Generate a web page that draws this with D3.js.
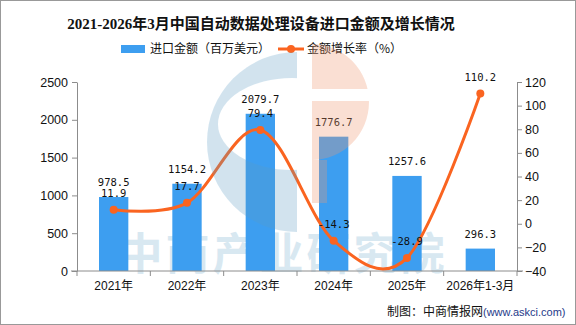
<!DOCTYPE html>
<html><head><meta charset="utf-8">
<script src="https://cdn.jsdelivr.net/npm/d3@7"></script>
<style>
html,body{margin:0;padding:0;background:#fff;}
svg{display:block;}
</style></head>
<body><svg id="c" width="576" height="325"></svg>
<script>
const categories = ["2021年","2022年","2023年","2024年","2025年","2026年1-3月"];
const importValues = [978.5, 1154.2, 2079.7, 1776.7, 1257.6, 296.3];
const growthRates = [11.9, 17.7, 79.4, -14.3, -28.9, 110.2];
const leftTicks = [0, 500, 1000, 1500, 2000, 2500];
const rightTicks = [-40, -20, 0, 20, 40, 60, 80, 100, 120];
const title = "2021-2026年3月中国自动数据处理设备进口金额及增长情况";
const legendBar = "进口金额（百万美元）";
const legendLine = "金额增长率（%）";

const svg = d3.select("#c");
const barColor = "#3d9ef0", lineColor = "#fa6420", axisColor = "#8c8c8c";
const numFont = "'DejaVu Sans Mono', monospace";
const cjk = "'Noto Sans CJK SC', sans-serif";

const x = d3.scaleBand().domain(categories).range([77, 517]).padding(0);
const yL = d3.scaleLinear().domain([0, 2500]).range([271, 82]);
const yR = d3.scaleLinear().domain([-40, 120]).range([271, 82]);

// border
svg.append("rect").attr("x",0.5).attr("y",0.5).attr("width",575).attr("height",324)
  .attr("fill","#fff").attr("stroke","#999");

// title
svg.append("text").attr("x",261).attr("y",29).attr("text-anchor","middle")
  .style("font-family","'Liberation Serif', 'Noto Sans CJK SC', serif").style("font-weight","700")
  .style("font-size","15px").attr("fill","#111").text(title);

// legend
svg.append("rect").attr("x",121).attr("y",45).attr("width",24).attr("height",8).attr("fill",barColor);
svg.append("text").attr("x",150).attr("y",53).style("font-family",cjk).style("font-size","12px")
  .attr("fill","#111").text(legendBar);
svg.append("line").attr("x1",278).attr("x2",304).attr("y1",49).attr("y2",49)
  .attr("stroke",lineColor).attr("stroke-width",3);
svg.append("circle").attr("cx",291).attr("cy",49).attr("r",4).attr("fill",lineColor);
svg.append("text").attr("x",307).attr("y",53).style("font-family",cjk).style("font-size","12px")
  .attr("fill","#111").text(legendLine);

// text watermark (behind)
svg.append("text").attr("x",283).attr("y",270).attr("text-anchor","middle")
  .style("font-family",cjk).style("font-weight","700").style("font-size","44px")
  .style("letter-spacing","3px").attr("fill","#d8e8f1").text("中商产业研究院");

// bars
const bw = x.bandwidth() * 0.4;
svg.append("g").selectAll("rect").data(importValues).join("rect")
  .attr("x",(d,i)=>x(categories[i]) + x.bandwidth()/2 - bw/2)
  .attr("y",d=>yL(d)).attr("width",bw).attr("height",d=>yL(0)-yL(d))
  .attr("fill",barColor);

// axes
const gL = svg.append("g").attr("transform","translate(77,0)")
  .call(d3.axisLeft(yL).tickValues(leftTicks).tickFormat(d3.format("d")).tickSize(5).tickSizeOuter(0).tickPadding(4));
const gR = svg.append("g").attr("transform","translate(517,0)")
  .call(d3.axisRight(yR).tickValues(rightTicks).tickFormat(d3.format("d")).tickSize(5).tickSizeOuter(0).tickPadding(3));
[gL,gR].forEach(g=>{
  g.select(".domain").attr("stroke",axisColor);
  g.selectAll(".tick line").attr("stroke",axisColor);
  g.selectAll(".tick text").style("font-family","'Liberation Sans', sans-serif")
    .style("font-size","12.5px").attr("fill","#111");
});
gR.selectAll(".tick text").text(d=> d<0 ? "\u2212"+Math.abs(d) : d);

const gX = svg.append("g").attr("transform","translate(0,271)");
gX.append("line").attr("x1",71).attr("x2",523).attr("stroke",axisColor);
const bounds = categories.map(c=>x(c)).concat([x.range()[1]]);
gX.selectAll(".bt").data(bounds).join("line").attr("class","bt")
  .attr("x1",d=>d).attr("x2",d=>d).attr("y1",0).attr("y2",5).attr("stroke",axisColor);
gX.selectAll(".xl").data(categories).join("text").attr("class","xl")
  .attr("x",d=>x(d)+x.bandwidth()/2).attr("y",19).attr("text-anchor","middle")
  .style("font-family","'Liberation Sans', 'Noto Sans CJK SC', sans-serif").style("font-size","12px")
  .attr("fill","#111").text(d=>d);

// line
const cx = i => x(categories[i]) + x.bandwidth()/2;
const line = d3.line().x((d,i)=>cx(i)).y(d=>yR(d)).curve(d3.curveCardinal.tension(0));
svg.append("path").datum(growthRates).attr("d",line).attr("fill","none")
  .attr("stroke",lineColor).attr("stroke-width",3);
svg.append("g").selectAll("circle").data(growthRates).join("circle")
  .attr("cx",(d,i)=>cx(i)).attr("cy",d=>yR(d)).attr("r",4).attr("fill",lineColor);

// value labels
const fmt = v => (v<0?"-":"") + Math.abs(v).toFixed(1);
svg.append("g").selectAll("text").data(importValues).join("text")
  .attr("x",(d,i)=>cx(i)).attr("y",d=>yL(d)-11).attr("text-anchor","middle")
  .style("font-family",numFont).style("font-size","10.5px").attr("fill","#111").text(fmt);
svg.append("g").selectAll("text").data(growthRates).join("text")
  .attr("x",(d,i)=>cx(i)).attr("y",d=>yR(d)-13).attr("text-anchor","middle")
  .style("font-family",numFont).style("font-size","10.5px").attr("fill","#111").text(fmt);

// logo watermark (on top, translucent)
const defs = svg.append("defs");
const mB = defs.append("mask").attr("id","mb");
mB.append("rect").attr("width",576).attr("height",325).attr("fill","#fff");
mB.append("ellipse").attr("cx",292).attr("cy",124).attr("rx",74).attr("ry",46).attr("fill","#000");
const mO = defs.append("mask").attr("id","mo");
mO.append("rect").attr("width",576).attr("height",325).attr("fill","#fff");
mO.append("rect").attr("x",300).attr("y",89).attr("width",80).attr("height",12).attr("fill","#000");
svg.append("path").attr("mask","url(#mb)")
  .attr("d","M297,52 A90,90 0 0 0 297,232 Z").attr("fill","#5b9bc4").attr("opacity",0.27);
svg.append("path").attr("mask","url(#mo)")
  .attr("d","M312,44 A57,58 0 0 1 312,160 L327,160 L327,203 L312,203 Z")
  .attr("fill","#f09870").attr("opacity",0.3);

// footer
const ft = svg.append("text").attr("x",387).attr("y",316).style("font-size","12px");
ft.append("tspan").style("font-family",cjk).attr("fill","#111").text("制图：中商情报网");
ft.append("tspan").style("font-family","'Liberation Sans', sans-serif").style("font-size","11px")
  .attr("fill","#1f3a8a").text("(www.askci.com)");
</script></body></html>
